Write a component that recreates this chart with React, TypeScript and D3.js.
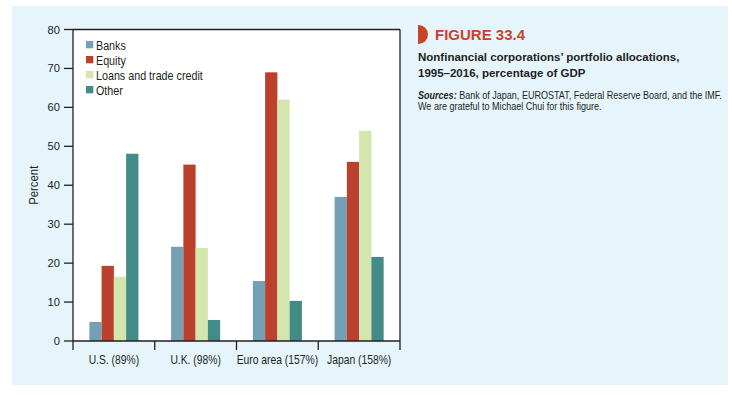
import React from "react";
import * as d3 from "d3";

const categories = ["U.S. (89%)", "U.K. (98%)", "Euro area (157%)", "Japan (158%)"];
const seriesNames = ["Banks", "Equity", "Loans and trade credit", "Other"];
const banks = [4.9, 24.2, 15.4, 37.0];
const equity = [19.3, 45.3, 69.0, 46.0];
const loans = [16.5, 23.9, 62.0, 54.0];
const other = [48.1, 5.4, 10.3, 21.6];
const yTicks = [0, 10, 20, 30, 40, 50, 60, 70, 80];
const colors = ["#74a0b6", "#bc412c", "#d2e6ad", "#438b86"];

const W = 732;
const H = 395;
const plot = { left: 73, right: 400, top: 29.5, bottom: 341 };
const sans = "'Liberation Sans', Arial, sans-serif";
const ink = "#231f20";

function NText({
  x,
  y,
  size,
  anchor = "start",
  rotate = 0,
  sx = 1,
  children,
  dy,
}: {
  x: number;
  y: number;
  size: number;
  anchor?: string;
  rotate?: number;
  sx?: number;
  children: React.ReactNode;
  dy?: string;
}) {
  return (
    <g transform={`translate(${x},${y}) rotate(${rotate}) scale(${sx},1)`}>
      <text x={0} y={0} dy={dy} textAnchor={anchor} fontFamily={sans} fontSize={size} fill={ink}>
        {children}
      </text>
    </g>
  );
}

export default function App() {
  const series = [banks, equity, loans, other];
  const x = d3.scaleBand<string>().domain(categories).range([plot.left, plot.right]).padding(0);
  const bw = x.bandwidth();
  const inner = d3
    .scaleBand<number>()
    .domain(d3.range(seriesNames.length))
    .range([bw * 0.2, bw * 0.8])
    .padding(0);
  const y = d3.scaleLinear().domain([0, 80]).range([plot.bottom, plot.top]);
  const boundaries = categories.map((c) => x(c) as number).concat([plot.right]);

  return (
    <svg
      width={W}
      height={H}
      style={{ position: "absolute", left: 0, top: 0, display: "block" }}
    >
      <rect x={12} y={6} width={716} height={379} fill="#e6f4fc" />
      <rect
        x={plot.left}
        y={plot.top}
        width={plot.right - plot.left}
        height={plot.bottom - plot.top}
        fill="#ffffff"
      />
      {categories.map((c, ci) =>
        series.map((s, si) => (
          <rect
            key={`${ci}-${si}`}
            x={(x(c) as number) + (inner(si) as number)}
            y={y(s[ci])}
            width={inner.bandwidth()}
            height={y(0) - y(s[ci])}
            fill={colors[si]}
          />
        ))
      )}
      <g stroke={ink} strokeWidth={1.3} fill="none">
        <line x1={plot.left} y1={plot.top} x2={plot.right} y2={plot.top} />
        <line x1={plot.left} y1={plot.top} x2={plot.left} y2={plot.bottom} />
        <line x1={plot.right} y1={plot.top} x2={plot.right} y2={plot.bottom} />
        <line x1={plot.left} y1={plot.bottom} x2={plot.right} y2={plot.bottom} />
        {boundaries.map((b, i) => (
          <line key={i} x1={b} y1={plot.bottom} x2={b} y2={plot.bottom + 9} />
        ))}
        {yTicks.map((t) => (
          <line key={t} x1={plot.left - 9} y1={y(t)} x2={plot.left} y2={y(t)} />
        ))}
      </g>
      {yTicks.map((t) => (
        <NText key={t} x={plot.left - 13} y={y(t)} dy="0.36em" size={11.2} anchor="end">
          {t}
        </NText>
      ))}
      {categories.map((c) => (
        <NText key={c} x={(x(c) as number) + bw / 2} y={364} size={12.3} sx={0.84} anchor="middle">
          {c}
        </NText>
      ))}
      <NText x={38} y={(plot.top + plot.bottom) / 2} size={12} sx={0.95} anchor="middle" rotate={-90}>
        Percent
      </NText>
      {seriesNames.map((n, i) => (
        <g key={n} transform={`translate(86,${41 + i * 15})`}>
          <rect x={0} y={0} width={7.3} height={7.3} fill={colors[i]} />
          <NText x={10} y={8.6} size={12.2} sx={0.88}>
            {n}
          </NText>
        </g>
      ))}
      <path d="M418,25 L418.5,25 A9.5,9.5 0 0 1 418.5,44 L418,44 Z" fill="#c8432a" />
      <text x={435} y={40} fontFamily={sans} fontWeight="bold" fontSize={15} fill="#c8432a">
        FIGURE 33.4
      </text>
      <text x={418} y={60.5} fontFamily={sans} fontWeight="bold" fontSize={11.5} fill={ink}>
        Nonfinancial corporations’ portfolio allocations,
      </text>
      <text x={418} y={76.5} fontFamily={sans} fontWeight="bold" fontSize={11.5} fill={ink}>
        1995–2016, percentage of GDP
      </text>
      <NText x={418} y={98.5} size={10.7} sx={0.845}>
        <tspan fontWeight="bold" fontStyle="italic">Sources:</tspan> Bank of Japan, EUROSTAT,
        Federal Reserve Board, and the IMF.
      </NText>
      <NText x={418} y={109.5} size={10.7} sx={0.845}>
        We are grateful to Michael Chui for this figure.
      </NText>
    </svg>
  );
}
